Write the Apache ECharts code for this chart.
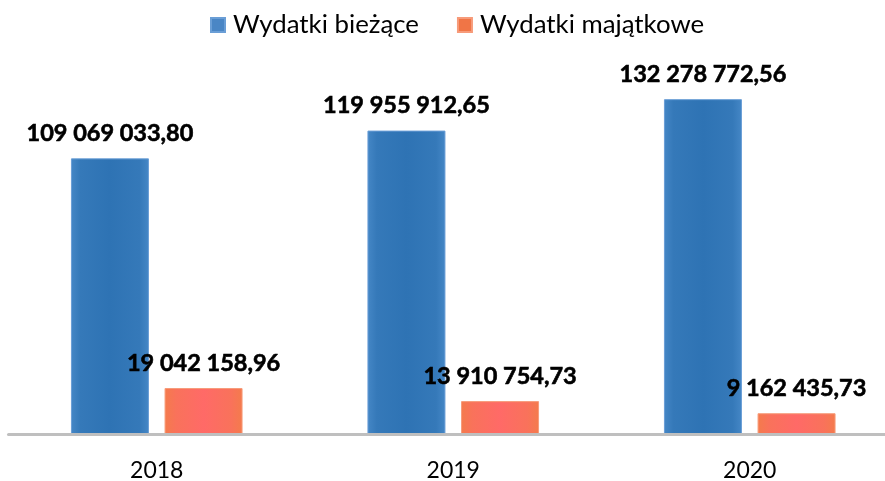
<!DOCTYPE html>
<html>
<head>
<meta charset="utf-8">
<script src="https://cdn.jsdelivr.net/npm/echarts@6/dist/echarts.min.js"></script>
<style>
html,body{margin:0;padding:0;background:#fff;}
#chart{width:885px;height:481px;}
</style>
</head>
<body>
<div id="chart"></div>
<script>
var categories = ['2018', '2019', '2020'];
var seriesNames = ['Wydatki bieżące', 'Wydatki majątkowe'];
var wydatkiBiezace = [109069033.80, 119955912.65, 132278772.56];
var wydatkiMajatkowe = [19042158.96, 13910754.73, 9162435.73];

function fmtPL(v) {
  var s = v.toFixed(2).split('.');
  var ip = s[0].replace(/\B(?=(\d{3})+(?!\d))/g, ' ');
  return ip + ',' + s[1];
}

var chart = echarts.init(document.getElementById('chart'), null, {renderer: 'canvas'});

var blueGrad = new echarts.graphic.LinearGradient(0, 0, 1, 0, [
  {offset: 0, color: '#4587C6'},
  {offset: 0.12, color: '#3579B9'},
  {offset: 0.5, color: '#2E73B4'},
  {offset: 0.88, color: '#3579B9'},
  {offset: 1, color: '#4587C6'}
]);
var orangeGrad = new echarts.graphic.LinearGradient(0, 0, 1, 0, [
  {offset: 0, color: '#F47B4C'},
  {offset: 0.15, color: '#F9725B'},
  {offset: 0.5, color: '#FF6A67'},
  {offset: 0.85, color: '#F9725B'},
  {offset: 1, color: '#F47B4C'}
]);

var labelStyle = {
  show: true,
  position: 'top',
  distance: 13,
  fontFamily: 'Lato',
  fontWeight: 'bold',
  fontSize: 23.5,
  color: '#000',
  textBorderColor: '#000',
  textBorderWidth: 0.6,
  formatter: function (p) { return fmtPL(p.value); }
};

chart.setOption({
  animation: false,
  backgroundColor: '#fff',
  legend: {
    top: 12,
    left: 210,
    padding: 0,
    itemWidth: 14,
    itemHeight: 14,
    itemGap: 38,
    icon: 'rect',
    textStyle: {fontFamily: 'Lato', fontSize: 25.8, color: '#000', padding: [0, 0, 0, 3]},
    data: [
      {name: seriesNames[0], itemStyle: {color: '#4A86C5'}},
      {name: seriesNames[1], itemStyle: {color: '#F07546'}}
    ]
  },
  grid: {left: 8.5, width: 889.5, top: 79.46, bottom: 46.4, outerBoundsMode: 'none', containLabel: false},
  xAxis: {
    type: 'category',
    data: categories,
    axisLine: {onZero: false, lineStyle: {color: '#BFBFBF', width: 3}},
    axisTick: {show: false},
    axisLabel: {fontFamily: 'Lato', fontSize: 23, color: '#000', margin: 24},
    z: 10
  },
  yAxis: {
    type: 'value',
    min: 784000,
    max: 140000000,
    show: false,
    splitLine: {show: false}
  },
  series: [
    {
      name: seriesNames[0],
      type: 'bar',
      data: wydatkiBiezace,
      barWidth: 78,
      barGap: '20%',
      itemStyle: {color: blueGrad, borderColor: '#6A9ED6', borderWidth: 1},
      label: labelStyle
    },
    {
      name: seriesNames[1],
      type: 'bar',
      data: wydatkiMajatkowe,
      barWidth: 78,
      itemStyle: {color: orangeGrad, borderColor: '#F79B7A', borderWidth: 1},
      label: labelStyle
    }
  ]
});
</script>
</body>
</html>
